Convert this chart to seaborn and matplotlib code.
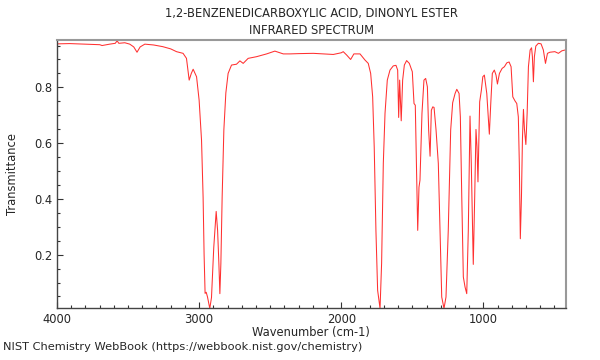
import pandas as pd
import matplotlib
matplotlib.use("Agg")
import matplotlib.pyplot as plt
import seaborn as sns
from matplotlib.ticker import MultipleLocator, FormatStrFormatter

# spectrum (wavenumber in cm-1, transmittance)
wavenumber = [
    4000, 3911, 3805, 3699, 3683, 3629, 3590, 3577, 3565, 3523, 3488, 3460,
    3437, 3415, 3382, 3320, 3256, 3200, 3159, 3113, 3089, 3070, 3055, 3042,
    3018, 3000, 2983, 2972, 2965, 2958, 2950, 2941, 2925, 2913, 2897, 2880,
    2870, 2861, 2854, 2847, 2838, 2826, 2812, 2796, 2772, 2737, 2713, 2690,
    2655, 2596, 2525, 2467, 2408, 2361, 2300, 2197, 2120, 2056, 2000, 1986,
    1962, 1934, 1911, 1868, 1833, 1810, 1793, 1779, 1768, 1756, 1744, 1727,
    1716, 1704, 1692, 1676, 1657, 1634, 1615, 1603, 1596, 1589, 1578, 1568,
    1556, 1540, 1521, 1500, 1488, 1479, 1469, 1462, 1453, 1446, 1432, 1418,
    1406, 1394, 1385, 1375, 1366, 1356, 1347, 1333, 1317, 1305, 1293, 1277,
    1263, 1247, 1230, 1216, 1199, 1187, 1171, 1162, 1152, 1141, 1129, 1117,
    1106, 1094, 1085, 1071, 1061, 1052, 1045, 1038, 1030, 1026, 1014, 1004,
    993, 976, 958, 948, 937, 923, 911, 901, 887, 868, 852, 835,
    819, 805, 793, 777, 765, 754, 747, 740, 732, 725, 718, 711,
    701, 692, 683, 671, 661, 655, 648, 641, 631, 613, 594, 578,
    563, 549, 532, 497, 472, 448, 425,
]
transmittance = [
    0.956, 0.957, 0.955, 0.953, 0.950, 0.955, 0.958, 0.967, 0.958, 0.960, 0.955, 0.945,
    0.926, 0.945, 0.955, 0.952, 0.946, 0.938, 0.928, 0.922, 0.904, 0.826, 0.850, 0.865,
    0.838, 0.754, 0.610, 0.406, 0.200, 0.061, 0.065, 0.048, 0.007, 0.046, 0.226, 0.355,
    0.287, 0.168, 0.060, 0.168, 0.406, 0.647, 0.780, 0.850, 0.880, 0.883, 0.895, 0.886,
    0.904, 0.910, 0.920, 0.930, 0.920, 0.920, 0.921, 0.922, 0.920, 0.918, 0.924, 0.928,
    0.916, 0.900, 0.920, 0.920, 0.898, 0.886, 0.850, 0.766, 0.586, 0.287, 0.072, 0.007,
    0.169, 0.528, 0.707, 0.826, 0.862, 0.877, 0.879, 0.862, 0.692, 0.826, 0.680, 0.826,
    0.880, 0.896, 0.886, 0.856, 0.742, 0.736, 0.467, 0.287, 0.442, 0.467, 0.707, 0.826,
    0.832, 0.802, 0.647, 0.553, 0.718, 0.730, 0.728, 0.647, 0.527, 0.287, 0.048, 0.007,
    0.048, 0.287, 0.647, 0.745, 0.778, 0.793, 0.778, 0.694, 0.407, 0.120, 0.084, 0.060,
    0.287, 0.697, 0.527, 0.165, 0.407, 0.649, 0.587, 0.461, 0.647, 0.748, 0.790, 0.838,
    0.844, 0.778, 0.632, 0.742, 0.850, 0.862, 0.844, 0.812, 0.850, 0.868, 0.874, 0.888,
    0.891, 0.874, 0.766, 0.751, 0.742, 0.694, 0.527, 0.257, 0.407, 0.617, 0.721, 0.650,
    0.595, 0.707, 0.874, 0.934, 0.942, 0.910, 0.820, 0.910, 0.948, 0.958, 0.956, 0.934,
    0.886, 0.922, 0.926, 0.928, 0.922, 0.931, 0.934,
]

title = "1,2-BENZENEDICARBOXYLIC ACID, DINONYL ESTER\nINFRARED SPECTRUM"
source = "NIST Chemistry WebBook (https://webbook.nist.gov/chemistry)"

sns.set_style("ticks")
plt.rcParams["font.family"] = ["DejaVu Sans"]
plt.rcParams["font.size"] = 8.3

df = pd.DataFrame({"wn": wavenumber, "T": transmittance})

fig = plt.figure(figsize=(6, 3.6), dpi=100)
ax = fig.add_axes([0.095, 0.144, 0.848, 0.745])

sns.lineplot(data=df, x="wn", y="T", estimator=None, sort=False,
             color="#ff3030", linewidth=0.75, ax=ax)

ax.set_xlim(4000, 420)
ax.set_ylim(0.008, 0.97)

ax.xaxis.set_major_locator(MultipleLocator(1000))
ax.xaxis.set_minor_locator(MultipleLocator(100))
ax.yaxis.set_major_locator(MultipleLocator(0.2))
ax.yaxis.set_minor_locator(MultipleLocator(0.05))
ax.yaxis.set_major_formatter(FormatStrFormatter("%.1f"))
ax.xaxis.set_major_formatter(FormatStrFormatter("%d"))

ax.tick_params(which="both", direction="in", top=False, right=False,
               labelsize=8.3, color="#333333", width=0.8)
ax.tick_params(which="major", length=4.5)
ax.tick_params(which="minor", length=2.2)

for side in ["top", "right"]:
    ax.spines[side].set_visible(True)
    ax.spines[side].set_color("#999999")
    ax.spines[side].set_linewidth(1.5)
for side in ["bottom", "left"]:
    ax.spines[side].set_color("#444444")
    ax.spines[side].set_linewidth(1.0)

ax.set_xlabel("Wavenumber (cm-1)", fontsize=8.3, labelpad=0)
ax.set_ylabel("Transmittance", fontsize=8.3, labelpad=11)
ax.set_title(title, fontsize=8.3, pad=4, linespacing=1.45)

fig.text(0.005, 0.022, source, fontsize=8.2, ha="left", va="bottom")

fig.savefig("out.png", dpi=100)
